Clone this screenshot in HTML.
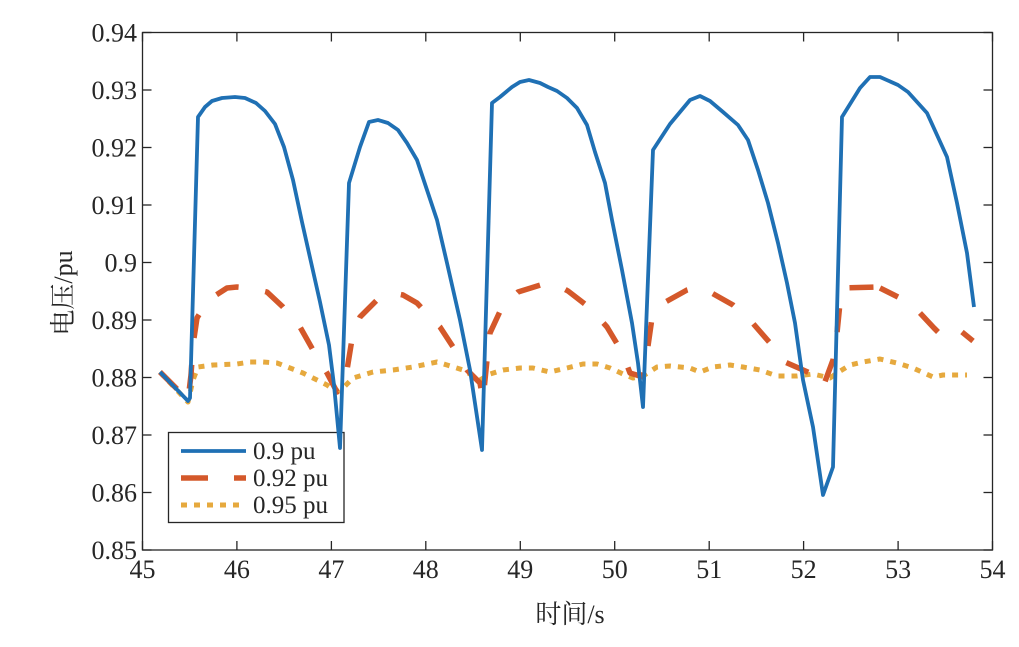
<!DOCTYPE html>
<html>
<head>
<meta charset="utf-8">
<style>
html,body{margin:0;padding:0;background:#fff;}
svg{display:block;}
.t{font-family:"Liberation Serif","Noto Serif CJK SC",serif;font-size:26px;fill:#262626;}
.c{font-family:"Liberation Serif","Noto Serif CJK SC","Noto Sans CJK SC",serif;font-size:26px;fill:#262626;}
</style>
</head>
<body>
<svg width="1019" height="647" viewBox="0 0 1019 647" xmlns="http://www.w3.org/2000/svg">
<rect x="0" y="0" width="1019" height="647" fill="#fff"/>

<!-- legend box (drawn beneath series) -->
<rect x="168.5" y="432.5" width="175.5" height="90" fill="#fff" stroke="#262626" stroke-width="1.3"/>

<!-- series -->
<g fill="none" stroke-linejoin="round">
<polyline stroke="#e6a93e" stroke-width="5" stroke-dasharray="6 7" points="160,372 188,402 193,380 198,367 213,365 237,364 250,362 263,362 277,363 290,368 303,373 317,380 327,385 337,392 343,388 353,378 373,372 393,370 413,367 437,362 447,365 463,370 480,380 490,374 503,370 520,368 533,368 550,372 567,368 583,364 597,364 610,368 623,374 633,378 643,376 657,367 670,366 690,368 700,372 713,367 730,365 743,367 760,370 777,376 797,376 813,374 830,378 837,373 850,365 863,362 880,359 897,363 913,368 933,377 943,375 967,375"/>
<polyline stroke="#d4582a" stroke-width="5.5" stroke-dasharray="24 27" points="160,372 188,400 191,375 193,345 197,318 205,305 213,297 227,288 237,287 250,288 267,292 283,307 300,327 313,350 327,373 337,392 343,387 347,370 353,333 360,317 380,297 393,293 403,295 417,303 433,320 440,327 457,353 467,370 480,383 483,400 487,360 490,333 502,307 518,292 547,283 557,285 568,291 590,308 607,327 622,352 630,373 643,377 647,353 652,318 660,305 687,290 697,287 710,292 733,305 750,320 770,343 785,362 810,373 823,387 833,360 837,333 840,303 843,288 877,287"/>
<polyline stroke="#d4582a" stroke-width="5.5" points="880,288 898,297"/>
<polyline stroke="#d4582a" stroke-width="5.5" points="920,313 934,328 938,332"/>
<polyline stroke="#d4582a" stroke-width="5.5" points="962,332 973,341"/>
<polyline stroke="#1f70b4" stroke-width="3.8" points="160,372 188,401 190,398 198,117 205,107 212,101 222,98 235,97 245,98 256,103 265,111 275,124 284,147 293,180 302,222 311,262 320,302 329,345 334,385 340,448 349,183 360,147 369,122 378,120 388,123 398,130 407,143 417,160 427,190 437,220 447,263 460,320 470,370 482,450 492,103 500,97 512,87 520,82 529,80 540,83 548,87 557,91 567,98 577,108 587,125 595,152 605,183 612,220 622,270 632,323 638,363 643,407 653,150 670,124 690,100 700,96 710,101 723,112 738,125 748,140 758,170 768,203 778,243 787,283 795,323 803,380 813,427 823,495 833,467 842,117 860,88 870,77 880,77 898,85 908,92 927,113 937,135 947,157 957,203 967,253 974,307"/>
</g>

<!-- axes box -->
<rect x="142.5" y="32.5" width="850" height="517.5" fill="none" stroke="#262626" stroke-width="1.3"/>

<!-- ticks -->
<g stroke="#262626" stroke-width="1.3">
<line x1="142.5" y1="550" x2="142.5" y2="541"/><line x1="142.5" y1="32.5" x2="142.5" y2="41.5"/>
<line x1="236.9" y1="550" x2="236.9" y2="541"/><line x1="236.9" y1="32.5" x2="236.9" y2="41.5"/>
<line x1="331.4" y1="550" x2="331.4" y2="541"/><line x1="331.4" y1="32.5" x2="331.4" y2="41.5"/>
<line x1="425.8" y1="550" x2="425.8" y2="541"/><line x1="425.8" y1="32.5" x2="425.8" y2="41.5"/>
<line x1="520.3" y1="550" x2="520.3" y2="541"/><line x1="520.3" y1="32.5" x2="520.3" y2="41.5"/>
<line x1="614.7" y1="550" x2="614.7" y2="541"/><line x1="614.7" y1="32.5" x2="614.7" y2="41.5"/>
<line x1="709.2" y1="550" x2="709.2" y2="541"/><line x1="709.2" y1="32.5" x2="709.2" y2="41.5"/>
<line x1="803.6" y1="550" x2="803.6" y2="541"/><line x1="803.6" y1="32.5" x2="803.6" y2="41.5"/>
<line x1="898.1" y1="550" x2="898.1" y2="541"/><line x1="898.1" y1="32.5" x2="898.1" y2="41.5"/>
<line x1="992.5" y1="550" x2="992.5" y2="541"/><line x1="992.5" y1="32.5" x2="992.5" y2="41.5"/>
<line x1="142.5" y1="32.5" x2="151.5" y2="32.5"/><line x1="992.5" y1="32.5" x2="983.5" y2="32.5"/>
<line x1="142.5" y1="90" x2="151.5" y2="90"/><line x1="992.5" y1="90" x2="983.5" y2="90"/>
<line x1="142.5" y1="147.5" x2="151.5" y2="147.5"/><line x1="992.5" y1="147.5" x2="983.5" y2="147.5"/>
<line x1="142.5" y1="205" x2="151.5" y2="205"/><line x1="992.5" y1="205" x2="983.5" y2="205"/>
<line x1="142.5" y1="262.5" x2="151.5" y2="262.5"/><line x1="992.5" y1="262.5" x2="983.5" y2="262.5"/>
<line x1="142.5" y1="320" x2="151.5" y2="320"/><line x1="992.5" y1="320" x2="983.5" y2="320"/>
<line x1="142.5" y1="377.5" x2="151.5" y2="377.5"/><line x1="992.5" y1="377.5" x2="983.5" y2="377.5"/>
<line x1="142.5" y1="435" x2="151.5" y2="435"/><line x1="992.5" y1="435" x2="983.5" y2="435"/>
<line x1="142.5" y1="492.5" x2="151.5" y2="492.5"/><line x1="992.5" y1="492.5" x2="983.5" y2="492.5"/>
<line x1="142.5" y1="550" x2="151.5" y2="550"/><line x1="992.5" y1="550" x2="983.5" y2="550"/>
</g>

<!-- y tick labels -->
<g class="t" text-anchor="end">
<text x="137" y="41.5">0.94</text>
<text x="137" y="99">0.93</text>
<text x="137" y="156.5">0.92</text>
<text x="137" y="214">0.91</text>
<text x="137" y="271.5">0.9</text>
<text x="137" y="329">0.89</text>
<text x="137" y="386.5">0.88</text>
<text x="137" y="444">0.87</text>
<text x="137" y="501.5">0.86</text>
<text x="137" y="559">0.85</text>
</g>

<!-- x tick labels -->
<g class="t" text-anchor="middle">
<text x="142.5" y="578">45</text>
<text x="236.9" y="578">46</text>
<text x="331.4" y="578">47</text>
<text x="425.8" y="578">48</text>
<text x="520.3" y="578">49</text>
<text x="614.7" y="578">50</text>
<text x="709.2" y="578">51</text>
<text x="803.6" y="578">52</text>
<text x="898.1" y="578">53</text>
<text x="992.5" y="578">54</text>
</g>

<!-- axis labels -->
<text class="c" x="570" y="623" text-anchor="middle">时间/s</text>
<text class="c" x="0" y="0" text-anchor="middle" transform="translate(72,293) rotate(-90)">电压/pu</text>

<!-- legend entries -->
<line x1="181" y1="451" x2="246" y2="451" stroke="#1f70b4" stroke-width="3.8"/>
<line x1="181" y1="478" x2="246" y2="478" stroke="#d4582a" stroke-width="5.5" stroke-dasharray="27 26"/>
<line x1="181" y1="505" x2="246" y2="505" stroke="#e6a93e" stroke-width="5" stroke-dasharray="6 7"/>
<g class="t" style="font-size:25px">
<text x="253" y="459">0.9 pu</text>
<text x="253" y="486">0.92 pu</text>
<text x="253" y="513">0.95 pu</text>
</g>
</svg>
</body>
</html>
